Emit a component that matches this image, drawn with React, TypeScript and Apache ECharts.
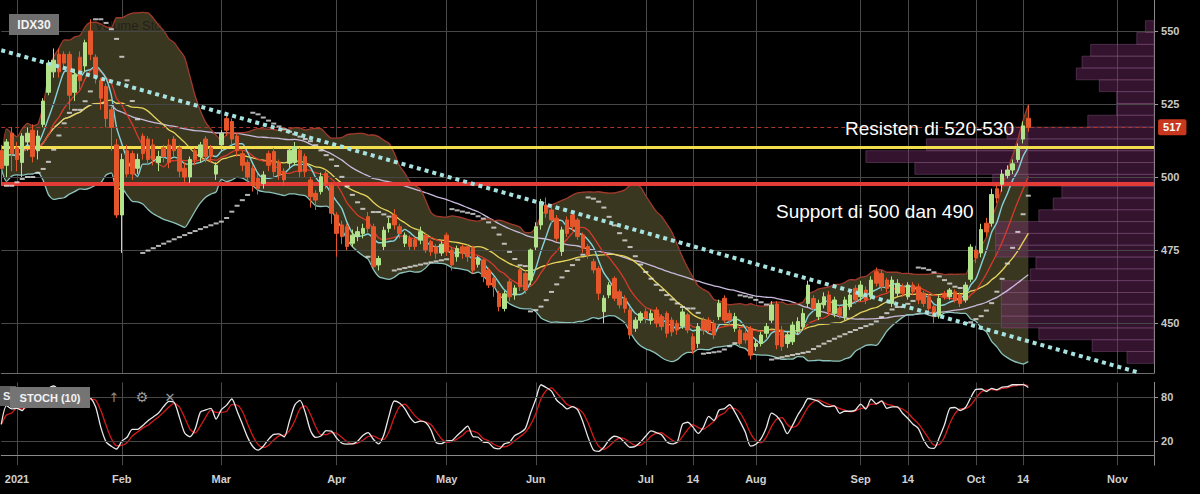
import React, { useEffect, useRef } from 'react';
import * as echarts from 'echarts';

const FONT = "'Liberation Sans', Arial, sans-serif";

// IDX trading holidays in the displayed period
const holidays = ['2020-12-24', '2020-12-25', '2020-12-31', '2021-01-01', '2021-02-12', '2021-03-11', '2021-04-02', '2021-05-12', '2021-05-13', '2021-05-14', '2021-05-26', '2021-06-01', '2021-07-20', '2021-08-11', '2021-08-17'];
const firstTradingDay = '2020-12-28';
const lastTradingDay = '2021-10-15';
const lastAxisDay = '2021-11-08';

// [open, close, low, high] — one row per trading day from 2020-12-28 to 2021-10-15
const ohlc: number[][] = [
  [509, 503, 497, 511], [504, 512, 500, 513], [515, 508, 502, 517],
  [510, 506, 502, 512], [505, 514, 500, 515], [512, 515, 509, 517], [516, 507, 505, 518], [509, 514, 506, 516],
  [518, 526, 517, 527], [529, 539, 528, 540], [536, 540, 534, 544], [542, 536, 534, 544], [542, 539, 537, 543],
  [542, 528, 523, 543], [529, 535, 526, 537], [541, 533, 530, 543], [538, 546, 536, 547], [550, 542, 540, 554],
  [541, 534, 532, 542], [533, 527, 523, 534], [531, 520, 517, 532], [523, 517, 509, 524], [511, 487, 486, 513],
  [487, 506, 474, 508], [509, 501, 500, 511], [508, 501, 499, 509], [503, 506, 501, 508], [514, 508, 506, 515],
  [513, 506, 504, 514], [511, 506, 504, 513], [505, 507, 502, 509], [510, 507, 505, 511], [511, 505, 503, 513],
  [513, 509, 507, 514], [510, 502, 500, 511], [503, 500, 498, 505], [500, 506, 498, 507], [509, 506, 504, 510],
  [507, 511, 505, 512], [513, 507, 505, 514], [510, 507, 505, 511], [501, 504, 499, 505],
  [511, 515, 509, 516], [520, 516, 514, 522], [519, 513, 511, 520], [514, 509, 507, 515], [508, 504, 502, 509],
  [505, 500, 498, 506], [503, 497, 495, 504], [499.5, 496, 494, 501], [497.8, 500.7, 496, 502], [508, 504, 502, 509],
  [508.7, 501.8, 500, 510], [505, 500.7, 499, 506], [502, 499, 497, 503], [504.7, 509.2, 503, 510.5], [505, 510.4, 504, 512],
  [509.2, 501.8, 500, 510], [507, 501.8, 500, 508], [499, 493.3, 489.5, 500], [494.4, 492.1, 488.7, 495.5], [495, 500.1, 494, 501.5],
  [501.3, 497.8, 496, 502.5], [497.3, 487.6, 484, 498],
  [487, 480.7, 472.7, 488], [483.6, 479.6, 477, 485], [483, 476.2, 475, 484], [477.3, 480.1, 476, 482], [479.6, 481.3, 478, 483],
  [480.7, 482.4, 479, 484], [486.4, 482.4, 481, 488], [483, 469.3, 468.5, 484], [469.9, 472.1, 468, 473], [476.2, 481.8, 475, 483],
  [482.4, 484.1, 481, 486], [487, 483.6, 482, 489], [483, 480.7, 479, 484], [477.3, 480.1, 476, 481], [479, 476.2, 475, 480],
  [478.4, 476.2, 475, 479.5], [478.4, 481.3, 477, 483], [480.1, 475, 474, 481], [477.9, 474.4, 473, 478.5], [476.1, 473.9, 472, 477],
  [474, 477, 473, 478],
  [480.1, 474.4, 473, 481], [475, 469.9, 468, 476], [472.7, 475.5, 471, 476.5], [476.1, 473.9, 472, 477], [476.1, 472.7, 471, 477],
  [475.6, 468.1, 467, 476.5], [470.1, 472.1, 469, 473], [471.6, 465.9, 464, 472], [468.1, 463, 462, 469], [465.3, 462.4, 459, 466],
  [460.1, 455.6, 454, 461], [455, 460, 454, 461], [464.1, 459, 457.5, 465], [459.6, 462, 458, 463], [468.2, 462.4, 461, 469.5],
  [467, 461.3, 460, 468], [464.7, 475, 463, 475.5],
  [476, 483, 475, 484.5], [483.6, 491.6, 482, 492.5], [490.4, 487.6, 486, 493], [488.7, 485.3, 484, 490], [485.9, 479, 478, 487],
  [474.5, 481.9, 473, 483], [485.3, 480.7, 479.5, 486.5], [487, 483, 481.5, 488], [485.3, 479.6, 478.5, 486], [480.2, 475.6, 474, 481],
  [476.2, 473.3, 472, 477], [471, 468.2, 467, 472], [468.7, 460.2, 457.9, 469.5], [453.9, 458.5, 449.9, 459.5], [459.6, 463, 458.5, 464],
  [465.3, 458.5, 457.5, 466], [460.7, 456.2, 455, 461.5], [458.5, 455, 453.5, 459.5], [454.5, 445.9, 444.5, 455.5], [448.2, 451, 447, 452],
  [451, 453.3, 450, 454],
  [453.9, 451.6, 450, 455], [451, 453.3, 449.5, 454.5], [454.5, 449.9, 448.5, 455.5], [452.2, 448.8, 447.5, 453], [453.3, 446.5, 445, 454],
  [451, 447, 445.5, 452], [449.9, 447.6, 446, 451], [449, 453.8, 448, 455], [452.8, 447.6, 446.5, 453.5], [445.3, 440.8, 439.5, 446.5],
  [443, 448.8, 441.5, 450], [451, 447.6, 446, 452], [451, 447.6, 446.5, 452], [449.9, 445.9, 444.5, 451], [452.2, 456.8, 451, 458],
  [458.5, 451, 450, 459.5], [453.3, 451, 449.5, 454.5], [448.2, 452.2, 447, 453.5], [447.6, 443, 441.5, 448.5], [446.5, 444.2, 443, 447.5],
  [448.2, 439, 437.5, 449],
  [442, 443, 440.5, 444.5], [443, 445.9, 442, 447], [446.5, 448.8, 445, 450], [451, 456.2, 450, 457.5], [456.5, 442.5, 441, 457.5],
  [447.6, 442, 440.5, 449], [443, 446, 441.5, 447], [443.6, 449.3, 442.5, 450.5], [447, 450.5, 446, 452], [448.7, 453.3, 447.5, 455],
  [456.7, 463, 455.5, 464.5], [458.4, 455, 454, 459.5], [452.2, 456.7, 451, 458], [456.2, 459, 455, 460.5], [459.6, 453.9, 452.5, 461],
  [453.3, 457.9, 452, 459], [455, 452.7, 451.5, 456], [452.2, 457.9, 451, 459], [455.6, 459.6, 454.5, 461], [461.9, 457.9, 456.5, 463],
  [459, 463, 457.5, 464.5], [461.3, 457.9, 456.5, 462.5], [459, 464.7, 458, 466], [467.6, 463.6, 462.5, 469], [467, 462.4, 461, 468],
  [464.7, 461.9, 460.5, 465.5], [456.7, 464.7, 455.5, 466], [460.2, 463.6, 459, 465], [462.4, 460.2, 459, 463.5], [459, 463, 458, 464],
  [463, 460.7, 459.5, 464], [462.4, 457.9, 456.5, 463.5], [460.2, 456.7, 455.5, 461], [459, 455, 454, 460], [455.6, 452.2, 450, 456.5],
  [452.7, 458.4, 451.5, 459.5], [460.2, 459, 458, 461], [459, 461.3, 458, 462], [460.7, 457.9, 457, 461.5], [459.6, 456.7, 455.5, 460.5],
  [457.9, 463, 457, 464], [465, 476, 464, 477],
  [475, 472.3, 470.5, 476.5], [474, 482, 472.5, 484], [484.2, 481.2, 479.5, 486], [484.2, 494, 483, 496], [496, 492.8, 491, 497.5],
  [497.5, 501, 495, 502.5], [500.5, 502.4, 499.5, 504], [502.4, 504.5, 501, 506], [506, 510, 505, 511.5], [513, 517.5, 511.5, 519],
  [520.1, 517, 515.5, 524.7],
];

const tickLabels: [string, string][] = [
  ['2021-01-04', '2021'], ['2021-02-01', 'Feb'], ['2021-03-01', 'Mar'], ['2021-04-01', 'Apr'], ['2021-05-03', 'May'],
  ['2021-06-02', 'Jun'], ['2021-07-01', 'Jul'], ['2021-07-14', '14'], ['2021-08-02', 'Aug'], ['2021-09-01', 'Sep'],
  ['2021-09-14', '14'], ['2021-10-01', 'Oct'], ['2021-10-14', '14'], ['2021-11-01', 'Nov'],
];

const resistanceLevel = 510.3;
const supportLevel = 497.8;
const trendStart: [string, number] = ['2020-12-28', 543.4];
const trendEnd: [string, number] = ['2021-11-05', 433.1];

// volume profile, bottom row first
const profileVolumes = [9.4, 21.5, 40, 53, 53, 53, 53, 43, 41, 55, 55, 55, 40, 35, 32, 56, 83, 100, 79, 51, 23, 13, 13, 19, 27, 25, 22, 6, 3];
const profileBottom = 436.2;
const profileStep = 4.045;

const mainTicks = [450, 475, 500, 525, 550];
const stochTicks = [20, 80];

function iso(d: Date) {
  return d.toISOString().slice(0, 10);
}

function buildCategories() {
  const out: string[] = [];
  let d = new Date(firstTradingDay + 'T00:00:00Z');
  const end = new Date(lastTradingDay + 'T00:00:00Z');
  while (d <= end) {
    const wd = d.getUTCDay();
    const s = iso(d);
    if (wd !== 0 && wd !== 6 && !holidays.includes(s)) out.push(s);
    d = new Date(d.getTime() + 86400000);
  }
  const endAxis = new Date(lastAxisDay + 'T00:00:00Z');
  while (d <= endAxis) {
    out.push(iso(d));
    d = new Date(d.getTime() + 86400000);
  }
  return out;
}

function sma(src: number[], n: number) {
  return src.map((_, i) => {
    const s = Math.max(0, i - n + 1);
    let t = 0;
    for (let k = s; k <= i; k++) t += src[k];
    return +(t / (i - s + 1)).toFixed(3);
  });
}

function bollinger(src: number[], n: number, k: number) {
  const mid = sma(src, n);
  const up: number[] = [];
  const lo: number[] = [];
  src.forEach((_, i) => {
    const s = Math.max(0, i - n + 1);
    let v = 0;
    for (let j = s; j <= i; j++) v += (src[j] - mid[i]) ** 2;
    const sd = Math.sqrt(v / (i - s + 1));
    up.push(mid[i] + k * sd);
    lo.push(mid[i] - k * sd);
  });
  return { up, lo };
}

function psar(h: number[], l: number[], step = 0.02, max = 0.2) {
  const out: (number | null)[] = [null];
  let up = true;
  let af = step;
  let ep = h[0];
  let sar = l[0];
  for (let i = 1; i < h.length; i++) {
    sar = sar + af * (ep - sar);
    if (up) {
      sar = Math.min(sar, l[i - 1], i > 1 ? l[i - 2] : l[i - 1]);
      if (l[i] < sar) {
        up = false; sar = ep; ep = l[i]; af = step;
      } else if (h[i] > ep) {
        ep = h[i]; af = Math.min(af + step, max);
      }
    } else {
      sar = Math.max(sar, h[i - 1], i > 1 ? h[i - 2] : h[i - 1]);
      if (h[i] > sar) {
        up = true; sar = ep; ep = h[i]; af = step;
      } else if (l[i] < ep) {
        ep = l[i]; af = Math.min(af + step, max);
      }
    }
    out.push(sar);
  }
  return out;
}

function stochastic(h: number[], l: number[], c: number[], n: number) {
  const raw = c.map((_, i) => {
    const s = Math.max(0, i - n + 1);
    let hh = -Infinity, ll = Infinity;
    for (let j = s; j <= i; j++) { hh = Math.max(hh, h[j]); ll = Math.min(ll, l[j]); }
    return hh === ll ? 50 : ((c[i] - ll) / (hh - ll)) * 100;
  });
  const k = sma(raw, 3);
  const d = sma(k, 3);
  return { k, d };
}

export default function App() {
  const ref = useRef<HTMLDivElement>(null);

  useEffect(() => {
    if (!ref.current) return;
    const chart = echarts.init(ref.current, undefined, { renderer: 'svg' });

    const cats = buildCategories();
    const tradeCats = cats.slice(0, ohlc.length);
    const labelMap: Record<string, string> = {};
    tickLabels.forEach(([d, t]) => { labelMap[d] = t; });
    const isTick = (_i: number, v: string) => labelMap[v] !== undefined;

    const opens = ohlc.map((r) => r[0]);
    const closes = ohlc.map((r) => r[1]);
    const lows = ohlc.map((r) => r[2]);
    const highs = ohlc.map((r) => r[3]);
    const lastClose = closes[closes.length - 1];

    const ma5 = sma(closes, 5);
    const ma10 = sma(closes, 10);
    const ma20 = sma(closes, 20);
    const ma50 = sma(closes, 50);
    const bb = bollinger(closes, 20, 2);
    const bbDiff = bb.up.map((u, i) => u - bb.lo[i]);
    const sar = psar(highs, lows);
    const st = stochastic(highs, lows, closes, 10);

    const profileData = profileVolumes.map((v, i) => [v, profileBottom + i * profileStep, profileBottom + (i + 1) * profileStep]);

    const candleData = ohlc.map((_, i) => [opens[i], closes[i], lows[i], highs[i]]);

    const lineBase = (name: string, data: any[], color: string, width: number, z: number, xi = 0) => ({
      name, type: 'line', xAxisIndex: xi, yAxisIndex: xi, data, symbol: 'none', smooth: 0.25, silent: true, z,
      lineStyle: { color, width },
    });

    const option: any = {
      backgroundColor: '#000',
      animation: false,
      textStyle: { fontFamily: FONT },
      grid: [
        { left: 1.28, right: 45.92, top: 0, height: 373 },
        { left: 1.28, right: 45.92, top: 382.4, height: 82.8 },
      ],
      xAxis: [
        {
          type: 'category', gridIndex: 0, data: cats, boundaryGap: false,
          axisLine: { show: true, lineStyle: { color: '#6c6c6c' } }, axisTick: { show: false }, axisLabel: { show: false },
          splitLine: { show: true, interval: isTick, lineStyle: { color: '#4a4a4a', width: 1 } },
        },
        {
          type: 'category', gridIndex: 1, data: cats, boundaryGap: false,
          axisLine: { show: true, lineStyle: { color: '#8a8a8a' } }, axisTick: { show: false },
          axisLabel: { show: true, interval: isTick, formatter: (v: string) => labelMap[v] || '', color: '#d0d0d0', fontSize: 11, fontWeight: 'bold', margin: 8, fontFamily: FONT },
          splitLine: { show: true, interval: isTick, lineStyle: { color: '#4a4a4a', width: 1 } },
        },
        { type: 'value', gridIndex: 0, min: 0, max: 400, inverse: true, show: false, position: 'top' },
      ],
      yAxis: [
        {
          type: 'value', gridIndex: 0, position: 'right', min: 432.9, max: 560.6,
          axisLine: { show: true, lineStyle: { color: '#8a8a8a' } },
          axisTick: { show: true, customValues: mainTicks, length: 4, lineStyle: { color: '#9a9a9a' } },
          axisLabel: { customValues: mainTicks, color: '#c8c8c8', fontSize: 11, fontWeight: 'bold', margin: 7, fontFamily: FONT },
          splitLine: { show: false },
        },
        {
          type: 'value', gridIndex: 1, position: 'right', min: -13, max: 100,
          axisLine: { show: true, lineStyle: { color: '#8a8a8a' } },
          axisTick: { show: true, customValues: stochTicks, length: 4, lineStyle: { color: '#9a9a9a' } },
          axisLabel: { customValues: stochTicks, color: '#c8c8c8', fontSize: 11, fontWeight: 'bold', margin: 7, fontFamily: FONT },
          splitLine: { show: false },
        },
      ],
      graphic: [
        { type: 'text', x: 95, y: 25, z: 3, style: { text: 'Volume Sto', fill: '#23211a', font: `13px ${FONT}`, verticalAlign: 'middle' } },
        { type: 'rect', shape: { x: 9, y: 14, width: 50, height: 21 }, style: { fill: '#6f6f6f' }, z: 100 },
        { type: 'text', x: 34, y: 24.5, z: 101, style: { text: 'IDX30', fill: '#f2f2f2', font: `bold 12px ${FONT}`, align: 'center', verticalAlign: 'middle' } },
        { type: 'text', x: 845, y: 128, z: 101, style: { text: 'Resisten di 520-530', fill: '#ffffff', font: `19px ${FONT}`, verticalAlign: 'middle' } },
        { type: 'text', x: 776, y: 211, z: 101, style: { text: 'Support di 500 dan 490', fill: '#ffffff', font: `19px ${FONT}`, verticalAlign: 'middle' } },
        { type: 'rect', shape: { x: 0, y: 386, width: 16, height: 20 }, style: { fill: '#5d5d5d' }, z: 100 },
        { type: 'text', x: 3, y: 396, z: 101, style: { text: 'S', fill: '#eeeeee', font: `bold 11px ${FONT}`, verticalAlign: 'middle' } },
        { type: 'rect', shape: { x: 10, y: 387, width: 80, height: 21 }, style: { fill: '#747474' }, z: 100 },
        { type: 'text', x: 50, y: 397.5, z: 101, style: { text: 'STOCH (10)', fill: '#f2f2f2', font: `bold 11px ${FONT}`, align: 'center', verticalAlign: 'middle' } },
        { type: 'text', x: 114, y: 397, z: 101, style: { text: '↑', fill: '#8a8a8a', font: `13px 'DejaVu Sans'`, align: 'center', verticalAlign: 'middle' } },
        { type: 'text', x: 142, y: 397, z: 101, style: { text: '⚙', fill: '#9a9a9a', font: `14px 'DejaVu Sans'`, align: 'center', verticalAlign: 'middle' } },
        { type: 'text', x: 170, y: 397, z: 101, style: { text: '✕', fill: '#9a9a9a', font: `13px 'DejaVu Sans'`, align: 'center', verticalAlign: 'middle' } },
      ],
      series: [
        // Bollinger fill
        { name: 'bbBase', type: 'line', xAxisIndex: 0, yAxisIndex: 0, data: bb.lo, stack: 'bb', symbol: 'none', smooth: 0.25, silent: true, z: 1, lineStyle: { opacity: 0 } },
        { name: 'bbFill', type: 'line', xAxisIndex: 0, yAxisIndex: 0, data: bbDiff, stack: 'bb', symbol: 'none', smooth: 0.25, silent: true, z: 1, lineStyle: { opacity: 0 }, areaStyle: { color: '#3a3721', opacity: 1 } },
        // main gridlines
        {
          name: 'grid', type: 'line', xAxisIndex: 0, yAxisIndex: 0, data: [], z: 2, silent: true,
          markLine: { silent: true, symbol: 'none', label: { show: false }, lineStyle: { color: '#474747', width: 1, type: 'solid' }, data: mainTicks.map((v) => ({ yAxis: v })) },
        },
        // volume profile
        {
          name: 'profile', type: 'custom', xAxisIndex: 2, yAxisIndex: 0, data: profileData, z: 3, silent: true,
          renderItem: (_p: any, api: any) => {
            const a = api.coord([0, api.value(1)]);
            const b = api.coord([api.value(0), api.value(2)]);
            return {
              type: 'rect',
              shape: { x: b[0], y: b[1], width: a[0] - b[0], height: a[1] - b[1] },
              style: { fill: 'rgba(118, 44, 108, 0.44)', stroke: 'rgba(140, 95, 135, 0.4)', lineWidth: 1 },
            };
          },
        },
        lineBase('ma50', ma50, '#c9b9dc', 1.3, 4),
        lineBase('ma20', ma20, '#e6d35a', 1.3, 4),
        lineBase('ma10', ma10, '#d8392b', 1.3, 4),
        lineBase('ma5', ma5, '#86d3dc', 1.4, 4),
        lineBase('bbUpper', bb.up, '#a23a2b', 1.3, 4),
        lineBase('bbLower', bb.lo, '#8cc3bd', 1.3, 4),
        {
          name: 'IDX30', type: 'candlestick', xAxisIndex: 0, yAxisIndex: 0, data: candleData, barWidth: 4, z: 5, silent: true,
          itemStyle: { color: '#b2e38a', color0: '#e5562a', borderColor: '#b2e38a', borderColor0: '#e5562a', borderWidth: 1 },
        },
        {
          name: 'psar', type: 'scatter', xAxisIndex: 0, yAxisIndex: 0, data: sar.map((v, i) => [tradeCats[i], v]), symbol: 'rect', symbolSize: [5, 2], z: 6, silent: true,
          itemStyle: { color: '#e2e2e2' },
        },
        {
          name: 'trend', type: 'line', xAxisIndex: 0, yAxisIndex: 0, data: [trendStart, trendEnd], symbol: 'none', z: 7, silent: true,
          lineStyle: { color: '#a6e3e0', width: 4, type: [4, 4] },
        },
        {
          name: 'levels', type: 'line', xAxisIndex: 0, yAxisIndex: 0, data: [], z: 8, silent: true,
          markLine: {
            silent: true, symbol: 'none', label: { show: false },
            data: [
              { yAxis: lastClose, lineStyle: { color: '#a8392a', width: 1, type: [4, 3] },
                label: { show: true, position: 'end', formatter: String(Math.round(lastClose)), color: '#fff', backgroundColor: '#c8381e', padding: [3, 5, 2, 5], borderRadius: 2, fontSize: 11, fontWeight: 'bold', distance: 4, fontFamily: FONT } },
              { yAxis: resistanceLevel, lineStyle: { color: '#f2de4c', width: 3, type: 'solid' } },
              { yAxis: supportLevel, lineStyle: { color: '#e33b35', width: 4, type: 'solid' } },
            ],
          },
        },
        // stochastic panel
        {
          name: 'sgrid', type: 'line', xAxisIndex: 1, yAxisIndex: 1, data: [], z: 1, silent: true,
          markLine: { silent: true, symbol: 'none', label: { show: false }, lineStyle: { color: '#474747', width: 1, type: 'solid' }, data: stochTicks.map((v) => ({ yAxis: v })) },
        },
        lineBase('%D', st.d, '#d41b1b', 1.3, 3, 1),
        lineBase('%K', st.k, '#e8e8e8', 1.3, 4, 1),
      ],
    };

    chart.setOption(option);
    return () => chart.dispose();
  }, []);

  return <div ref={ref} style={{ position: 'fixed', left: 0, top: 0, width: 1200, height: 494, background: '#000' }} />;
}
